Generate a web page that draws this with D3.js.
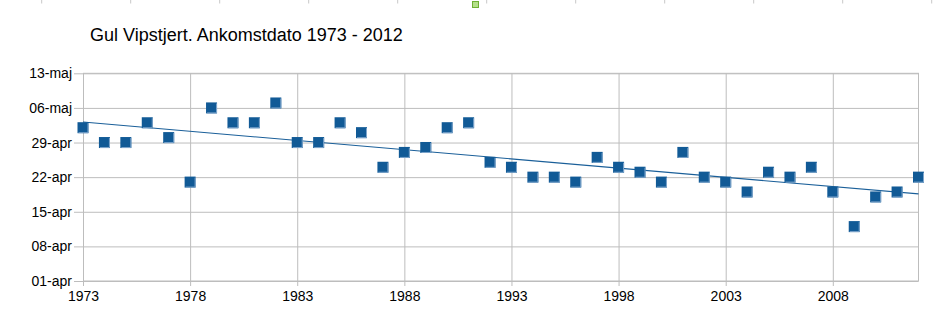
<!DOCTYPE html>
<html>
<head>
<meta charset="utf-8">
<script src="https://cdn.jsdelivr.net/npm/d3@7"></script>
<style>
  html, body { margin: 0; padding: 0; background: #fff; }
  svg { display: block; font-family: "Liberation Sans", Arial, sans-serif; }
</style>
</head>
<body>
<svg id="chart" width="946" height="323"></svg>
<script>
// Gul vipstjert: first arrival date per year
const years = d3.range(1973, 2013);
const arrival = [
  "02-maj", "29-apr", "29-apr", "03-maj", "30-apr", "21-apr", "06-maj", "03-maj", "03-maj", "07-maj",
  "29-apr", "29-apr", "03-maj", "01-maj", "24-apr", "27-apr", "28-apr", "02-maj", "03-maj", "25-apr",
  "24-apr", "22-apr", "22-apr", "21-apr", "26-apr", "24-apr", "23-apr", "21-apr", "27-apr", "22-apr",
  "21-apr", "19-apr", "23-apr", "22-apr", "24-apr", "19-apr", "12-apr", "18-apr", "19-apr", "22-apr"
];
const yTickLabels = ["01-apr", "08-apr", "15-apr", "22-apr", "29-apr", "06-maj", "13-maj"];
const xTickYears = [1973, 1978, 1983, 1988, 1993, 1998, 2003, 2008];
const title = "Gul Vipstjert. Ankomstdato 1973 - 2012";

// days after 1 April
const dayOffset = s => {
  const [d, m] = s.split("-");
  return (+d - 1) + (m === "maj" ? 30 : 0);
};

const points = years.map((yr, i) => ({ year: yr, day: dayOffset(arrival[i]) }));

const svg = d3.select("#chart");
const plot = { left: 83, right: 918.5, top: 73.3, bottom: 281 };

const x = d3.scaleLinear().domain([1973, 2012]).range([plot.left, plot.right]);
const y = d3.scaleLinear().domain([0, 42]).range([plot.bottom, plot.top]);

// spreadsheet column marks along the top edge
const colMarks = d3.range(41.7, 946, 89);
svg.append("g").selectAll("line").data(colMarks).join("line")
  .attr("x1", d => d).attr("x2", d => d).attr("y1", 0).attr("y2", 3.5)
  .attr("stroke", "#c8c8c8").attr("stroke-width", 1);
svg.append("rect").attr("x", 472.5).attr("y", 1.5).attr("width", 6).attr("height", 6)
  .attr("fill", "#b5e08a").attr("stroke", "#6fb034").attr("stroke-width", 1);

// title
svg.append("text").attr("x", 90).attr("y", 41)
  .attr("font-size", 18).attr("fill", "#000").text(title);

const grid = "#bdbdbd";

// horizontal gridlines + y axis
const yAxis = d3.axisLeft(y)
  .tickValues(yTickLabels.map(dayOffset))
  .tickFormat((d, i) => yTickLabels[i])
  .tickSize(9).tickPadding(2);
const gy = svg.append("g").attr("transform", `translate(${plot.left},0)`).call(yAxis);
gy.select(".domain").remove();
gy.selectAll(".tick line").attr("stroke", grid).attr("x2", -9).clone()
  .attr("x1", 0).attr("x2", plot.right - plot.left);
gy.selectAll(".tick text").attr("font-size", 14).attr("fill", "#000")
  .attr("font-family", "Liberation Sans, Arial, sans-serif");

// vertical gridlines + x axis
const xAxis = d3.axisBottom(x)
  .tickValues(xTickYears)
  .tickFormat(d3.format("d"))
  .tickSize(5).tickPadding(5);
const gx = svg.append("g").attr("transform", `translate(0,${plot.bottom})`).call(xAxis);
gx.select(".domain").remove();
gx.selectAll(".tick line").attr("stroke", grid).clone()
  .attr("y1", 0).attr("y2", plot.top - plot.bottom);
gx.selectAll(".tick text").attr("font-size", 14).attr("fill", "#000")
  .attr("font-family", "Liberation Sans, Arial, sans-serif");

// plot frame
svg.append("rect")
  .attr("x", plot.left + 0.5).attr("y", plot.top)
  .attr("width", plot.right - plot.left - 0.5).attr("height", plot.bottom - plot.top)
  .attr("fill", "none").attr("stroke", grid).attr("stroke-width", 1);

// linear trend (least squares)
const mx = d3.mean(points, d => d.year), my = d3.mean(points, d => d.day);
const slope = d3.sum(points, d => (d.year - mx) * (d.day - my)) / d3.sum(points, d => (d.year - mx) ** 2);
const trend = yr => my + slope * (yr - mx);
svg.append("line")
  .attr("x1", x(1973)).attr("y1", y(trend(1973)))
  .attr("x2", x(2012)).attr("y2", y(trend(2012)))
  .attr("stroke", "#1a5f99").attr("stroke-width", 1.1);

// markers
const s = 11;
const mk = svg.append("g").selectAll("g").data(points).join("g")
  .attr("transform", d => `translate(${x(d.year)},${y(d.day)})`);
mk.append("rect").attr("x", -s / 2).attr("y", -s / 2).attr("width", s).attr("height", s)
  .attr("fill", "#115a96");
mk.append("path").attr("d", `M${s / 2 - 0.5},${-s / 2 + 1}V${s / 2 - 0.5}H${-s / 2 + 1}`)
  .attr("fill", "none").attr("stroke", "#7fa6cc").attr("stroke-width", 1);
</script>
</body>
</html>
